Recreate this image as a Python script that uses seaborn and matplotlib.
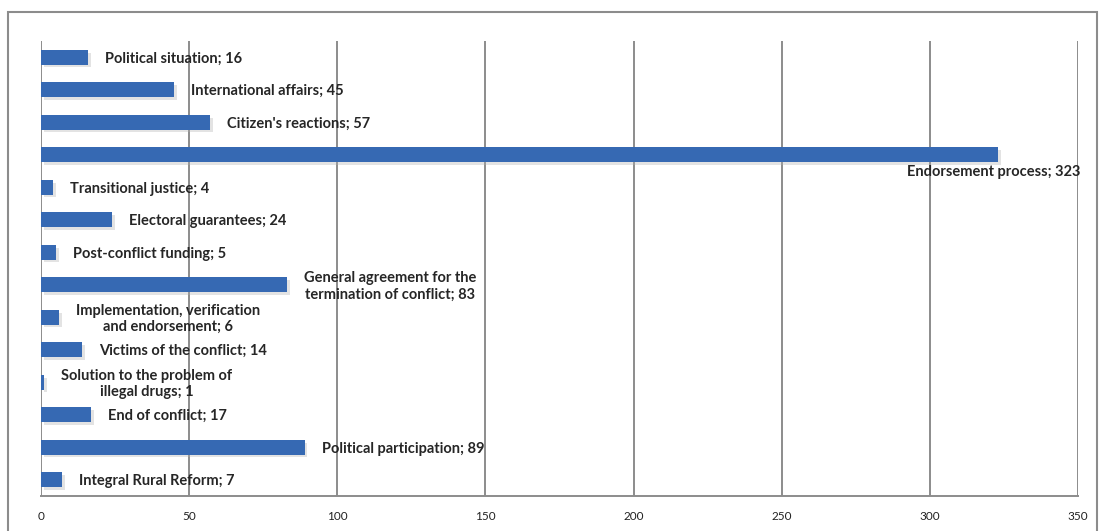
import matplotlib
matplotlib.use("Agg")
import matplotlib.pyplot as plt
import matplotlib.patheffects as pe
from matplotlib.patches import Rectangle
import seaborn as sns
import pandas as pd

# categories top -> bottom, and the counts
topics = ["Political situation", "International affairs", "Citizen's reactions",
          "Endorsement process", "Transitional justice", "Electoral guarantees",
          "Post-conflict funding", "General agreement for the termination of conflict",
          "Implementation, verification and endorsement", "Victims of the conflict",
          "Solution to the problem of illegal drugs", "End of conflict",
          "Political participation", "Integral Rural Reform"]
counts = [16, 45, 57, 323, 4, 24, 5, 83, 6, 14, 1, 17, 89, 7]

# how the labels are wrapped in the picture
label_text = ["Political situation; 16", "International affairs; 45",
              "Citizen's reactions; 57", "Endorsement process; 323",
              "Transitional justice; 4", "Electoral guarantees; 24",
              "Post-conflict funding; 5",
              "General agreement for the\ntermination of conflict; 83",
              "Implementation, verification\nand endorsement; 6",
              "Victims of the conflict; 14",
              "Solution to the problem of\nillegal drugs; 1",
              "End of conflict; 17", "Political participation; 89",
              "Integral Rural Reform; 7"]
x_ticks = [0, 50, 100, 150, 200, 250, 300, 350]

df = pd.DataFrame({"topic": topics, "count": counts})

sns.set_style("white")
plt.rcParams["font.family"] = ["Lato", "DejaVu Sans"]

fig = plt.figure(figsize=(11.05, 5.31), dpi=100)
ax = fig.add_axes([41 / 1105, 1 - 496 / 531, (1078 - 41) / 1105, (496 - 41) / 531])

sns.barplot(data=df, x="count", y="topic", orient="h", color="#3669b3",
            width=0.45, saturation=1, linewidth=0, ax=ax)
for bar in ax.patches:
    bar.set_path_effects([pe.SimplePatchShadow(offset=(2, -2), shadow_rgbFace="#b0b0b0", alpha=0.35),
                          pe.Normal()])
    bar.set_zorder(3)

ax.set_xlim(0, 350)
ax.set_ylim(13.5, -0.5)
ax.set_xticks(x_ticks)
ax.set_xticklabels([str(t) for t in x_ticks], fontsize=8.5)
ax.set_yticks([])
ax.set_xlabel("")
ax.set_ylabel("")

# grid like the original
for t in x_ticks:
    ax.axvline(t, color="#8c8c8c", lw=1.4, zorder=1)
for s in ["top", "right", "left"]:
    ax.spines[s].set_visible(False)
ax.spines["bottom"].set_color("#8c8c8c")
ax.spines["bottom"].set_linewidth(1.4)
ax.tick_params(axis="x", length=6, width=1.4, color="#8c8c8c", pad=5, labelcolor="#222222")

for i, (v, lab) in enumerate(zip(counts, label_text)):
    if v > 300:
        ax.annotate(lab, (v, i), xytext=(82, -17), textcoords="offset pixels",
                    ha="right", va="center", fontsize=10.5, fontweight="bold", zorder=5)
    else:
        ax.annotate(lab, (v, i), xytext=(17, -1.5), textcoords="offset pixels",
                    ha="left", va="center", multialignment="center",
                    fontsize=10.5, fontweight="bold", zorder=5, linespacing=1.2)

# outer chart frame
fig.patches.append(Rectangle((8 / 1105, -0.05), (1097 - 8) / 1105, 1 - 12 / 531 + 0.05,
                             transform=fig.transFigure, fill=False,
                             edgecolor="#8c8c8c", lw=1.5))

fig.savefig("out.png", dpi=100)
